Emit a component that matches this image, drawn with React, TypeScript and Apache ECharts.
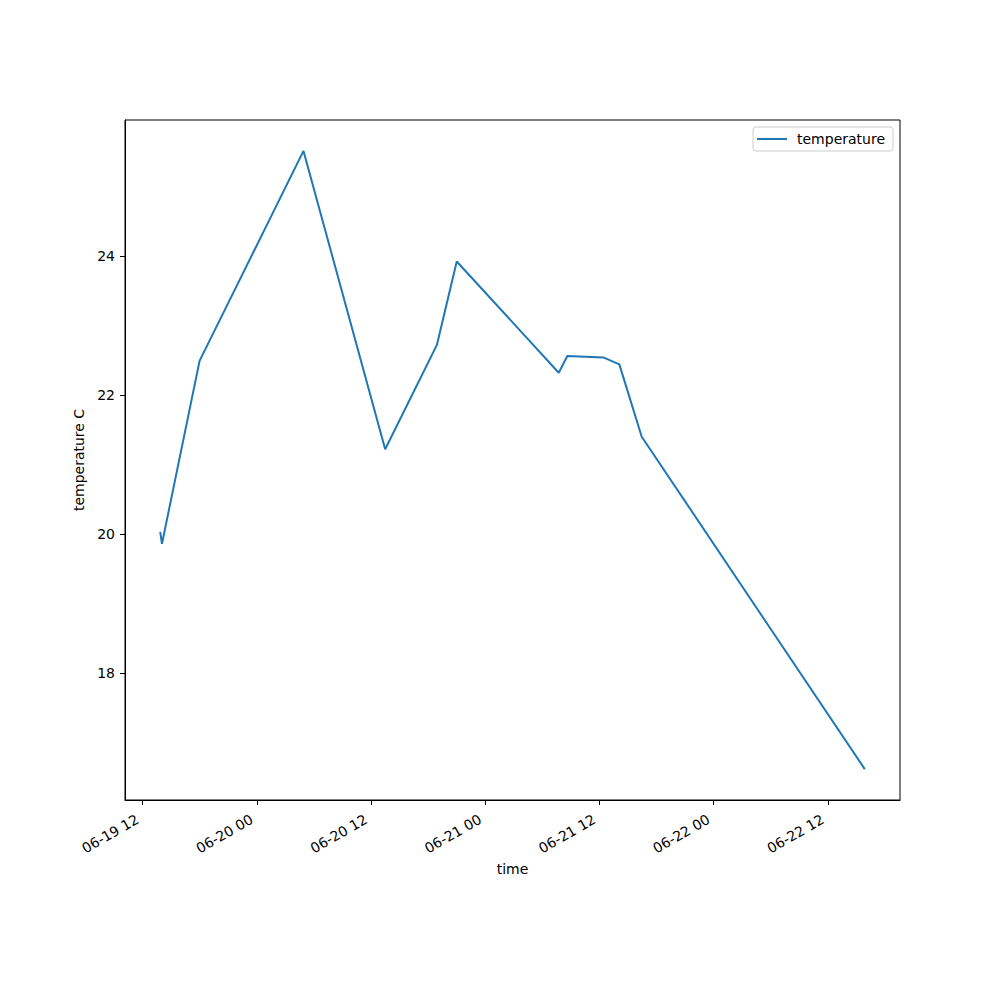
import React, { useEffect, useRef } from "react";
import * as echarts from "echarts";

const times = [
  "2021-06-19 13:51",
  "2021-06-19 14:02",
  "2021-06-19 17:59",
  "2021-06-20 04:54",
  "2021-06-20 13:29",
  "2021-06-20 18:55",
  "2021-06-20 21:00",
  "2021-06-21 07:43",
  "2021-06-21 08:37",
  "2021-06-21 12:24",
  "2021-06-21 14:05",
  "2021-06-21 16:26",
  "2021-06-22 15:52",
];
const temperature = [20.03, 19.86, 22.49, 25.51, 21.22, 22.72, 23.92, 22.32, 22.56, 22.54, 22.44, 21.4, 16.62];
const xTicks = [
  "2021-06-19 12:00",
  "2021-06-20 00:00",
  "2021-06-20 12:00",
  "2021-06-21 00:00",
  "2021-06-21 12:00",
  "2021-06-22 00:00",
  "2021-06-22 12:00",
];
const yTicks = [18, 20, 22, 24];

function parseUTC(s: string): number {
  const [d, t] = s.split(" ");
  const [y, mo, da] = d.split("-").map(Number);
  const [h, mi] = t.split(":").map(Number);
  return Date.UTC(y, mo - 1, da, h, mi);
}
const pad = (n: number) => (n < 10 ? "0" + n : "" + n);
function fmt(ms: number): string {
  const d = new Date(ms);
  return `${pad(d.getUTCMonth() + 1)}-${pad(d.getUTCDate())} ${pad(d.getUTCHours())}`;
}

export default function App() {
  const ref = useRef<HTMLDivElement>(null);
  useEffect(() => {
    if (!ref.current) return;
    const chart = echarts.init(ref.current, null, { renderer: "svg" });
    const xs = times.map(parseUTC);
    const xMinD = Math.min(...xs);
    const xMaxD = Math.max(...xs);
    const xm = (xMaxD - xMinD) * 0.05;
    const yMinD = Math.min(...temperature);
    const yMaxD = Math.max(...temperature);
    const ym = (yMaxD - yMinD) * 0.05;
    const font = "DejaVu Sans";
    const tickMs = xTicks.map(parseUTC);
    chart.setOption({
      animation: false,
      textStyle: { fontFamily: font },
      grid: {
        left: 125,
        right: 100,
        top: 120,
        bottom: 200,
        show: true,
        borderColor: "#000",
        borderWidth: 1,
        backgroundColor: "transparent",
      },
      legend: {
        show: true,
        right: 107,
        top: 127,
        padding: [5, 8, 5, 4],
        icon: "rect",
        itemWidth: 30,
        itemHeight: 2,
        itemGap: 10,
        borderColor: "#cccccc",
        borderWidth: 1,
        borderRadius: 3,
        textStyle: { fontFamily: font, fontSize: 14, color: "#000", padding: [0, 0, 0, 5] },
        data: ["temperature"],
      },
      xAxis: {
        type: "value",
        min: xMinD - xm,
        max: xMaxD + xm,
        name: "time",
        nameLocation: "middle",
        nameGap: 58,
        nameTextStyle: { fontFamily: font, fontSize: 14, color: "#000" },
        axisLine: { show: true, onZero: false, lineStyle: { color: "#000", width: 1 } },
        axisTick: { show: true, length: 5, customValues: tickMs, lineStyle: { color: "#000" } },
        axisLabel: {
          customValues: tickMs,
          rotate: 30,
          margin: 15,
          padding: [0, 6, 0, 0],
          fontFamily: font,
          fontSize: 14,
          color: "#000",
          formatter: (v: number) => fmt(v),
        },
        splitLine: { show: false },
      },
      yAxis: {
        type: "value",
        min: yMinD - ym,
        max: yMaxD + ym,
        name: "temperature C",
        nameLocation: "middle",
        nameGap: 33,
        nameTextStyle: { fontFamily: font, fontSize: 14, color: "#000" },
        axisLine: { show: true, onZero: false, lineStyle: { color: "#000", width: 1 } },
        axisTick: { show: true, length: 5, customValues: yTicks, lineStyle: { color: "#000" } },
        axisLabel: {
          customValues: yTicks,
          margin: 10,
          fontFamily: font,
          fontSize: 14,
          color: "#000",
        },
        splitLine: { show: false },
      },
      series: [
        {
          name: "temperature",
          type: "line",
          symbol: "none",
          data: xs.map((x, i) => [x, temperature[i]]),
          lineStyle: { color: "#1f77b4", width: 2 },
          itemStyle: { color: "#1f77b4" },
        },
      ],
    });
    return () => chart.dispose();
  }, []);
  return <div ref={ref} style={{ position: "absolute", left: 0, top: 0, width: 1000, height: 1000 }} />;
}
